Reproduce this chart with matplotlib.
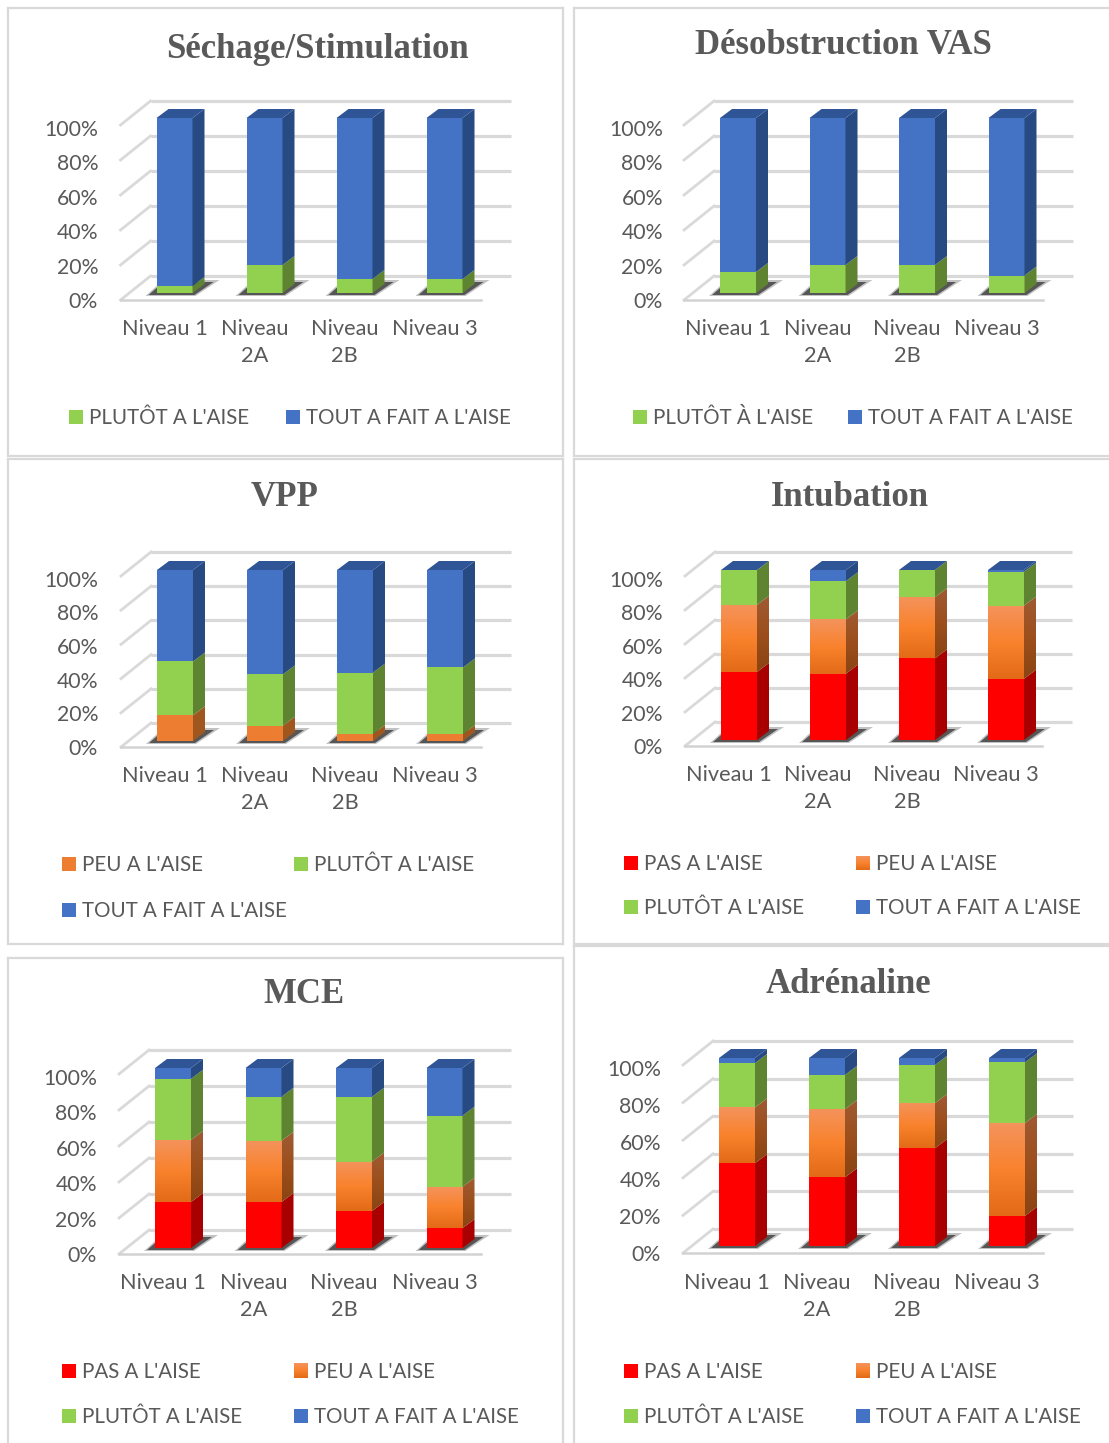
import numpy as np
import matplotlib
matplotlib.use('Agg')
import matplotlib.pyplot as plt
from matplotlib.colors import LinearSegmentedColormap
from matplotlib.patches import Polygon, Rectangle

plt.rcParams['font.family'] = ['Lato', 'DejaVu Sans']

W, H = 1109, 1443
TEXT_COL = '#595959'
GRID_COL = '#D9D9D9'

categories = ['Niveau 1', 'Niveau\n2A', 'Niveau\n2B', 'Niveau 3']
y_ticks = [0, 20, 40, 60, 80, 100]

sechage_plutot = [4, 16, 8, 8]
sechage_tout = [96, 84, 92, 92]

vas_plutot = [12, 16, 16, 10]
vas_tout = [88, 84, 84, 90]

vpp_peu = [15, 9, 4, 4]
vpp_plutot = [31.5, 30, 36, 39]
vpp_tout = [53.5, 61, 60, 57]

intub_pas = [40, 39, 48, 36]
intub_peu = [39.5, 32, 36, 43]
intub_plutot = [20.5, 22.5, 16, 20]
intub_tout = [0, 6.5, 0, 1]

mce_pas = [25.5, 25.5, 20.5, 11]
mce_peu = [34.5, 34, 27.5, 23]
mce_plutot = [34, 24.5, 36, 39.5]
mce_tout = [6, 16, 16, 26.5]

adre_pas = [44, 36.5, 52, 16]
adre_peu = [29.7, 36.3, 24, 49.4]
adre_plutot = [23.6, 18.2, 20.3, 32.3]
adre_tout = [2.7, 9, 3.7, 2.3]

PAS = "PAS A L'AISE"
PEU = "PEU A L'AISE"
PLUTOT = "PLUTÔT A L'AISE"
TOUT = "TOUT A FAIT A L'AISE"

# front, side colour
colors = {
    'pas': ('#FF0000', '#A80000'),
    'peu': ('#ED7D31', '#A0561F'),
    'plutot': ('#92D14F', '#5F8431'),
    'tout': ('#4472C4', '#284A82'),
}
TOP_COL = '#2F5597'

grad_front = LinearSegmentedColormap.from_list('gf', ['#F4935C', '#F9822D', '#E36B17'])
grad_side = LinearSegmentedColormap.from_list('gs', ['#A05A33', '#9C4F1C', '#8A4412'])

# frame is left, top, right, bottom of the panel, in pixels
panels = [
    dict(title='Séchage/Stimulation', title_xy=(317, 46), frame=(8, 8, 563, 456),
         x0=174.5, step=90, top=118, bottom=293, front=300, tick_right=98, lab_y=331,
         series=[('plutot', sechage_plutot), ('tout', sechage_tout)], grad=False,
         legend=[(PLUTOT, 'plutot', 69, 417), (TOUT, 'tout', 286, 417)]),
    dict(title='Désobstruction VAS', title_xy=(843, 43), frame=(574, 8, 1114, 456),
         x0=738, step=89.5, top=118, bottom=293, front=300, tick_right=663, lab_y=331,
         series=[('plutot', vas_plutot), ('tout', vas_tout)], grad=False,
         legend=[("PLUTÔT À L'AISE", 'plutot', 633, 417), (TOUT, 'tout', 848, 417)]),
    dict(title='VPP', title_xy=(285, 494), frame=(8, 459, 563, 944),
         x0=175, step=90, top=570, bottom=741, front=747, tick_right=98, lab_y=778,
         series=[('peu', vpp_peu), ('plutot', vpp_plutot), ('tout', vpp_tout)], grad=False,
         legend=[(PEU, 'peu', 62, 864), (PLUTOT, 'plutot', 294, 864), (TOUT, 'tout', 62, 910)]),
    dict(title='Intubation', title_xy=(850, 494), frame=(574, 459, 1114, 944),
         x0=739, step=89, top=570, bottom=740, front=746, tick_right=663, lab_y=777,
         series=[('pas', intub_pas), ('peu', intub_peu), ('plutot', intub_plutot), ('tout', intub_tout)], grad=True,
         legend=[(PAS, 'pas', 624, 863), (PEU, 'peu', 856, 863), (PLUTOT, 'plutot', 624, 907), (TOUT, 'tout', 856, 907)]),
    dict(title='MCE', title_xy=(304, 992), frame=(8, 958, 563, 1449),
         x0=173, step=90.5, top=1068, bottom=1248, front=1254, tick_right=97, lab_y=1285,
         series=[('pas', mce_pas), ('peu', mce_peu), ('plutot', mce_plutot), ('tout', mce_tout)], grad=True,
         legend=[(PAS, 'pas', 62, 1371), (PEU, 'peu', 294, 1371), (PLUTOT, 'plutot', 62, 1416), (TOUT, 'tout', 294, 1416)]),
    dict(title='Adrénaline', title_xy=(848, 982), frame=(574, 946, 1114, 1449),
         x0=737, step=90, top=1058, bottom=1246, front=1253, tick_right=661, lab_y=1285,
         series=[('pas', adre_pas), ('peu', adre_peu), ('plutot', adre_plutot), ('tout', adre_tout)], grad=True,
         legend=[(PAS, 'pas', 624, 1371), (PEU, 'peu', 856, 1371), (PLUTOT, 'plutot', 624, 1416), (TOUT, 'tout', 856, 1416)]),
]

BAR_W = 36
DEPTH_X, DEPTH_Y = 12, 9
WALL_X, WALL_Y = 30, 24

fig = plt.figure(figsize=(W / 100, H / 100), dpi=100)
fig.patch.set_facecolor('white')


def draw_panel(p):
    fl, ft, fr, fb = p['frame']
    ax = fig.add_axes([fl / W, 1 - fb / H, (fr - fl) / W, (fb - ft) / H])
    x0, step, bottom = p['x0'], p['step'], p['bottom']
    per_px = 100 / (bottom - p['top'])

    # pixel <-> data helpers for this panel
    dx = lambda n: n / step
    dy = lambda n: n * per_px
    to_x = lambda px: (px - x0) / step
    to_y = lambda py: (bottom - py) * per_px

    ax.set_xticks([])
    ax.set_yticks([])
    for s in ax.spines.values():
        s.set_color(GRID_COL)
        s.set_linewidth(1.6)

    # walls
    front0 = to_y(p['front'])
    xl, xr = dx(-54), 3 + dx(36)
    for v in y_ticks:
        y = front0 + v
        ax.plot([xl + dx(WALL_X), xr + dx(WALL_X)], [y + dy(WALL_Y)] * 2, color=GRID_COL, lw=2.3, zorder=1, solid_capstyle='butt')
        ax.plot([xl, xl + dx(WALL_X)], [y, y + dy(WALL_Y)], color=GRID_COL, lw=2.0, zorder=1)
        ax.text(to_x(p['tick_right']), front0 - dy(-2) * -1 + v * 0.985, f'{v}%', ha='right', va='center',
                fontsize=15.3, color=TEXT_COL)
    ax.plot([xl, xr], [front0, front0], color='#D2D2D2', lw=1.8, zorder=1)

    w = dx(BAR_W)
    ddx, ddy = dx(DEPTH_X), dy(DEPTH_Y)

    for i in range(len(categories)):
        left, right = i - w / 2, i + w / 2
        # floor shadow, soft edge first
        ax.add_patch(Polygon([(left - dx(11), dy(-3)), (right + dx(3), dy(-3)), (right + dx(27), dy(13)), (right + dx(10), dy(13)), (left, dy(7))],
                             fc='#9A9A9A', ec='none', alpha=0.6, zorder=2))
        ax.add_patch(Polygon([(left - dx(8), dy(-2)), (right + dx(2), dy(-2)), (right + dx(21), dy(11)), (right + dx(8), dy(11)), (left, dy(5))],
                             fc='#4A4A4A', ec='none', alpha=0.9, zorder=2))

        base = 0
        for name, values in p['series']:
            val = values[i]
            front_c, side_c = colors[name]
            side = [(right, base), (right + ddx, base + ddy), (right + ddx, base + val + ddy), (right, base + val)]
            if name == 'peu' and p['grad']:
                g = np.linspace(0, 1, 64).reshape(-1, 1)
                ax.imshow(g, extent=[left, right, base, base + val], cmap=grad_front, aspect='auto', origin='upper', zorder=3)
                im = ax.imshow(g, extent=[right, right + ddx, base, base + val + ddy], cmap=grad_side, aspect='auto', origin='upper', zorder=3)
                clip = Polygon(side, transform=ax.transData, fc='none', ec='none')
                ax.add_patch(clip)
                im.set_clip_path(clip)
            else:
                ax.bar(i, val, width=w, bottom=base, color=front_c, zorder=3)
                ax.add_patch(Polygon(side, fc=side_c, ec='none', zorder=3))
            base += val
        ax.add_patch(Polygon([(left, base), (right, base), (right + ddx, base + ddy), (left + ddx, base + ddy)],
                             fc=TOP_COL, ec='none', zorder=3))

        ax.text(i + dx(-10), to_y(p['lab_y'] - 12), categories[i], ha='center', va='top', fontsize=15.7,
                color=TEXT_COL, linespacing=1.42)

    # legend, swatch then label
    for label, name, px, py in p['legend']:
        if name == 'peu' and p['grad']:
            g = np.linspace(0, 1, 32).reshape(-1, 1)
            ax.imshow(g, extent=[to_x(px), to_x(px + 14), to_y(py + 7), to_y(py - 7)], cmap=grad_front, aspect='auto', origin='upper', zorder=3)
        else:
            ax.add_patch(Rectangle((to_x(px), to_y(py + 7)), dx(14), dy(14), fc=colors[name][0], ec='none'))
        ax.text(to_x(px + 20), to_y(py + 1), label, ha='left', va='center', fontsize=14.8, color=TEXT_COL)

    ax.set_xlim(to_x(fl), to_x(fr))
    ax.set_ylim(to_y(fb), to_y(ft))
    tx, ty = p['title_xy']
    ax.text(to_x(tx), to_y(ty + 3), p['title'], ha='center', va='center', fontsize=25, fontweight='bold',
            family=['Liberation Serif', 'DejaVu Serif'], color=TEXT_COL)


for p in panels:
    draw_panel(p)

fig.savefig('out.png', dpi=100)
